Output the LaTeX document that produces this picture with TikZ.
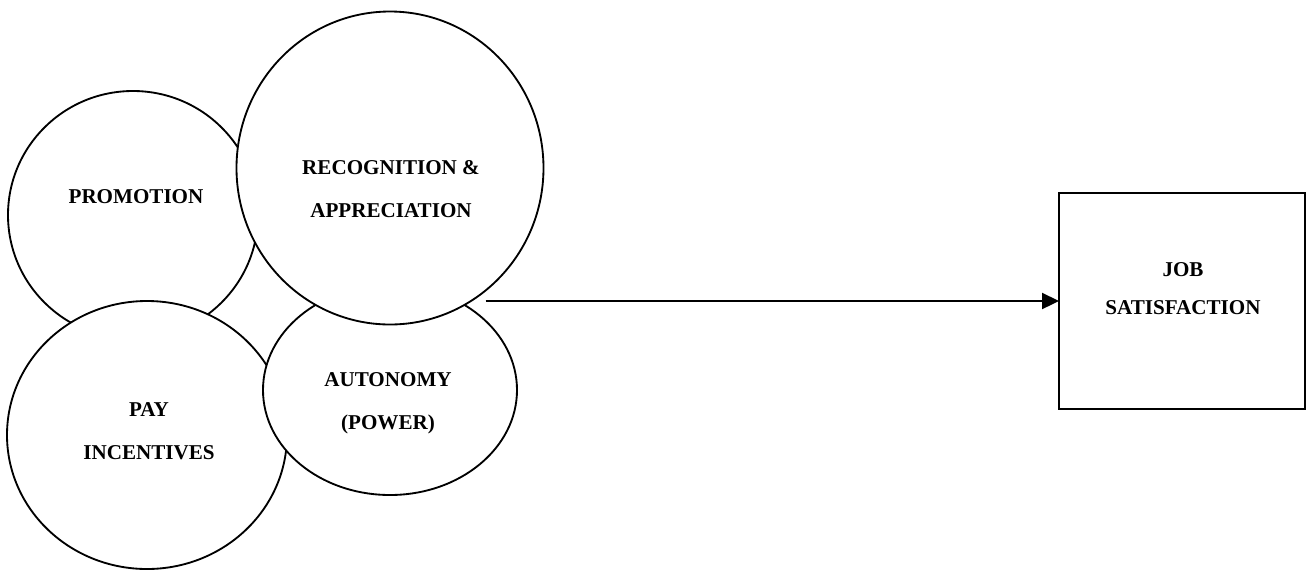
\documentclass[tikz,border=0pt]{standalone}
\usepackage{fontspec}
\setmainfont{Liberation Serif}
\usetikzlibrary{shapes.geometric}
\usetikzlibrary{arrows.meta}

\tikzset{
  bubble/.style={ellipse,draw=black,line width=1.05pt,fill=white,inner sep=0pt,outer sep=0pt},
  factor/.style={font=\fontsize{12}{24.5}\selectfont\bfseries,align=center,inner sep=0pt},
  outcome/.style={draw=black,line width=1.05pt,inner sep=0pt,outer sep=0pt},
  leadsto/.style={line width=1.3pt,-{Triangle[length=3.4mm,width=3.2mm]}}
}

\begin{document}
\begin{tikzpicture}

\useasboundingbox (0,0) rectangle (26.14,-11.42);

% the four factors, drawn back to front
\node[bubble,minimum width=5.0cm,minimum height=4.96cm] (promo) at (2.66,-4.30) {};
\node[bubble,minimum width=5.6cm,minimum height=5.36cm] (pay) at (2.94,-8.70) {};
\node[bubble,minimum width=5.08cm,minimum height=4.2cm] (auto) at (7.80,-7.80) {};
\node[bubble,minimum width=6.14cm,minimum height=6.26cm] (recog) at (7.80,-3.36) {};

\node[factor] (promo-t) at (2.72,-3.94) {PROMOTION};
\node[factor] (pay-t) at (2.98,-8.63) {PAY\\INCENTIVES};
\node[factor] (auto-t) at (7.76,-8.07) {AUTONOMY\\(POWER)};
\node[factor] (recog-t) at (7.82,-3.78) {RECOGNITION \&\\APPRECIATION};

% outcome
\node[outcome,minimum width=4.92cm,minimum height=4.32cm] (job) at (23.64,-6.02) {};
\node[factor,font=\fontsize{12}{21.6}\selectfont\bfseries] (job-t) at (23.66,-5.78) {JOB\\SATISFACTION};

\draw[leadsto] (recog.-52 |- job.west) -- (job.west);

\end{tikzpicture}
\end{document}
